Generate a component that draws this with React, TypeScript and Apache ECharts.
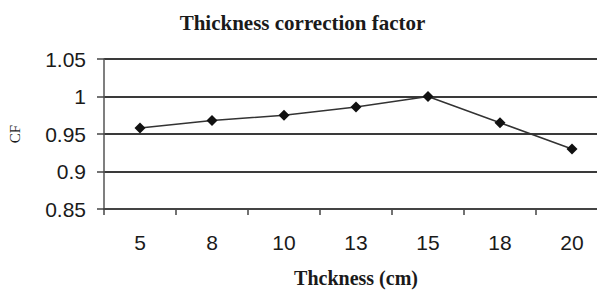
import React, { useEffect, useRef } from "react";
import * as echarts from "echarts";

const categories = ["5", "8", "10", "13", "15", "18", "20"];
const cfValues = [0.958, 0.968, 0.975, 0.986, 1.0, 0.965, 0.93];
const titleText = "Thickness correction factor";
const xName = "Thckness (cm)";
const yName = "CF";

export default function App() {
  const ref = useRef<HTMLDivElement>(null);
  useEffect(() => {
    const chart = echarts.init(ref.current!, null, { renderer: "svg" });
    chart.setOption({
      animation: false,
      backgroundColor: "#ffffff",
      title: {
        text: titleText,
        left: "center",
        top: 7,
        textStyle: {
          fontFamily: "Liberation Serif",
          fontWeight: "bold",
          fontSize: 21,
          color: "#1a1a1a",
        },
      },
      grid: { left: 104, right: -3, top: 59, bottom: 81, outerBoundsMode: "none", containLabel: false },
      xAxis: {
        type: "category",
        data: categories,
        boundaryGap: true,
        name: xName,
        nameLocation: "middle",
        nameGap: 59,
        nameTextStyle: {
          fontFamily: "Liberation Serif",
          fontWeight: "bold",
          fontSize: 20,
          color: "#1a1a1a",
        },
        axisLine: { show: true, lineStyle: { color: "#444", width: 2 } },
        axisTick: { show: true, inside: false, length: 6, lineStyle: { color: "#444", width: 1.5 } },
        axisLabel: {
          margin: 23,
          fontFamily: "Liberation Sans",
          fontSize: 21,
          color: "#1a1a1a",
        },
        splitLine: { show: false },
      },
      yAxis: {
        type: "value",
        min: 0.85,
        max: 1.05,
        interval: 0.05,
        name: yName,
        nameLocation: "middle",
        nameGap: 82,
        nameRotate: 90,
        nameTextStyle: {
          fontFamily: "Liberation Serif",
          fontSize: 15,
          color: "#1a1a1a",
        },
        axisLine: { show: true, lineStyle: { color: "#555", width: 1.5 } },
        axisTick: { show: true, inside: false, length: 7, lineStyle: { color: "#444", width: 1.5 } },
        axisLabel: {
          margin: 18,
          fontFamily: "Liberation Sans",
          fontSize: 21,
          color: "#1a1a1a",
        },
        splitLine: { show: true, lineStyle: { color: "#3a3a3a", width: 2 } },
      },
      series: [
        {
          type: "line",
          data: cfValues,
          symbol: "diamond",
          symbolSize: 11,
          itemStyle: { color: "#111" },
          lineStyle: { color: "#333", width: 1.5 },
        },
      ],
    });
    return () => chart.dispose();
  }, []);
  return <div ref={ref} style={{ width: 605, height: 290, marginLeft: -8, marginTop: -8 }} />;
}
